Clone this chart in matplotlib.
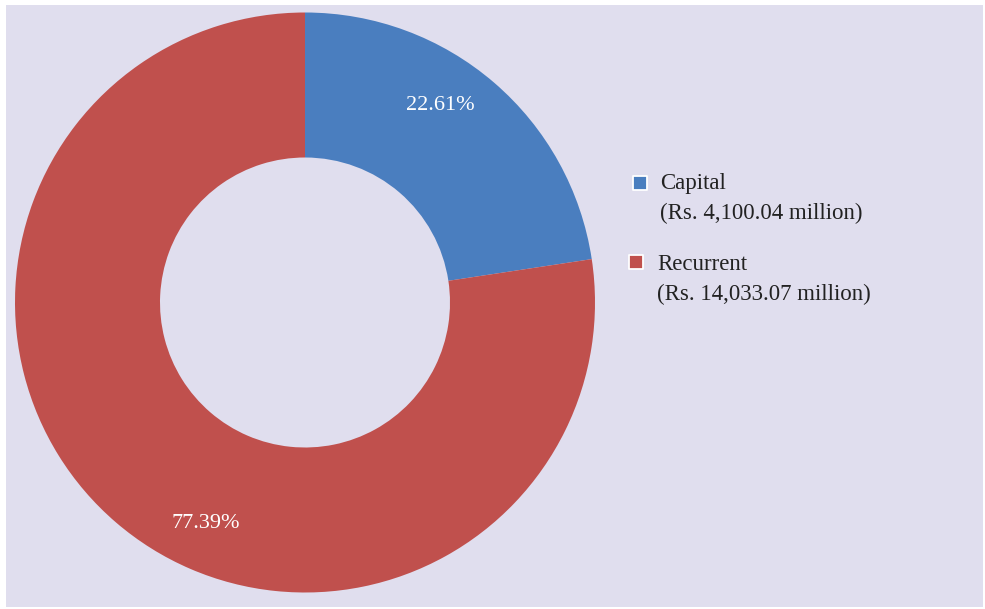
import matplotlib
matplotlib.use("Agg")
import matplotlib.pyplot as plt
from matplotlib.patches import Rectangle

categories = ["Capital", "Recurrent"]
amounts = ["Rs. 4,100.04 million", "Rs. 14,033.07 million"]
shares = [22.61, 77.39]
colors = ["#4A7EBF", "#C0504D"]

W, H = 985, 609
fig = plt.figure(figsize=(W / 100, H / 100), dpi=100, facecolor="white")
ax = fig.add_axes([0, 0, 1, 1])
ax.set_xlim(0, W)
ax.set_ylim(0, H)
ax.set_aspect("equal")
ax.axis("off")

ax.add_patch(Rectangle((6, 2), 977, 602, facecolor="#E0DEEE", edgecolor="none", zorder=0))

cx, cy, R = 305, H - 302.5, 290
wedges, texts, autotexts = ax.pie(
    shares, colors=colors, startangle=90, counterclock=False,
    center=(cx, cy), radius=R, autopct="%.2f%%",
    wedgeprops=dict(width=R * 0.5, edgecolor="none", linewidth=0),
    textprops=dict(color="white", fontsize=16, family="Liberation Serif"),
    frame=True,
)
ax.set_xlim(0, W)
ax.set_ylim(0, H)
ax.axis("off")

label_pos = [(440, H - 105), (206, H - 523)]
for t, p in zip(autotexts, label_pos):
    t.set_position(p)
    t.set_ha("center")
    t.set_va("center")

# legend
leg_y = [H - 184, H - 265]
for i, (cat, amt) in enumerate(zip(categories, amounts)):
    mx = 640 if i == 0 else 636
    tx = 660 if i == 0 else 657
    ax.scatter([mx], [H - (183 if i == 0 else 262)], marker="s", s=95, c=colors[i],
               edgecolors="white", linewidths=1.3, zorder=5)
    ax.text(tx, leg_y[i], cat, fontsize=16.5, family="Liberation Serif",
            color="#222222", va="center", ha="left")
    ax.text(tx, leg_y[i] - 29, "(" + amt + ")", fontsize=16.5, family="Liberation Serif",
            color="#222222", va="center", ha="left")

fig.savefig("out.png", dpi=100, facecolor="white")
